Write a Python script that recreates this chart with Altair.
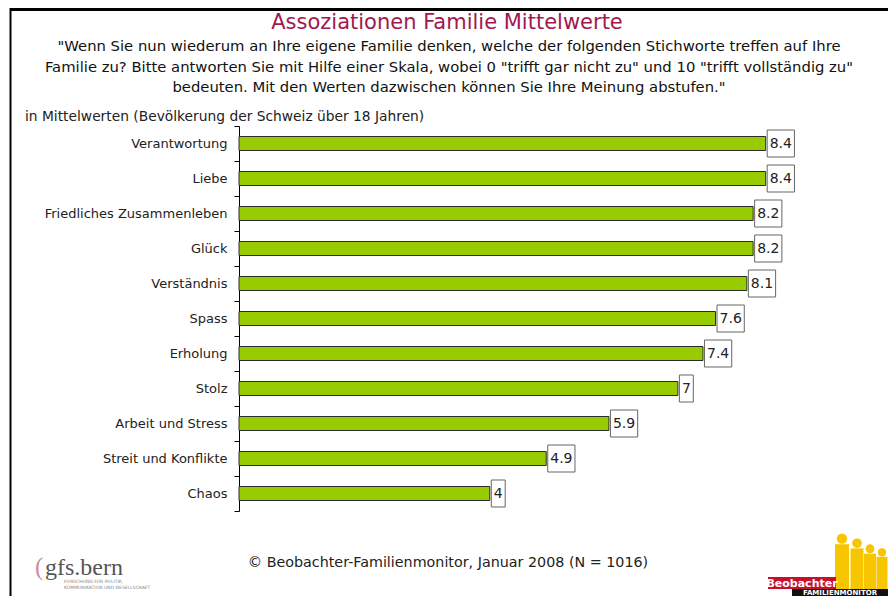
import altair as alt
import pandas as pd

categories = ["Verantwortung", "Liebe", "Friedliches Zusammenleben", "Glück", "Verständnis",
              "Spass", "Erholung", "Stolz", "Arbeit und Stress", "Streit und Konflikte", "Chaos"]
values = [8.4, 8.4, 8.2, 8.2, 8.1, 7.6, 7.4, 7, 5.9, 4.9, 4]
labels = ["8.4", "8.4", "8.2", "8.2", "8.1", "7.6", "7.4", "7", "5.9", "4.9", "4"]

title_text = "Assoziationen Familie Mittelwerte"
question_lines = [
    '"Wenn Sie nun wiederum an Ihre eigene Familie denken, welche der folgenden Stichworte treffen auf Ihre',
    'Familie zu? Bitte antworten Sie mit Hilfe einer Skala, wobei 0 "trifft gar nicht zu" und 10 "trifft vollständig zu"',
    'bedeuten. Mit den Werten dazwischen können Sie Ihre Meinung abstufen."',
]
subtitle_text = "in Mittelwerten (Bevölkerung der Schweiz über 18 Jahren)"
footer_text = "© Beobachter-Familienmonitor, Januar 2008 (N = 1016)"

df = pd.DataFrame({"cat": categories, "v": values, "lab": labels})

FONT = "DejaVu Sans"
W, H = 627, 385
PX = W / 10.0  # pixels per unit

y_enc = alt.Y("cat:N", sort=categories, title=None,
              scale=alt.Scale(paddingInner=0, paddingOuter=0),
              axis=alt.Axis(tickBand="extent", domainColor="black", tickColor="black",
                            tickSize=5, labelFont=FONT, labelFontSize=13, labelColor="#222",
                            labelPadding=7, labelLimit=300))
x_scale = alt.Scale(domain=[0, 10])

base = alt.Chart(df)

bars = base.mark_bar(size=14, fill="#99CC00", stroke="#2a2a2a", strokeWidth=1).encode(
    x=alt.X("v:Q", scale=x_scale, axis=None), y=y_enc)

boxed = base.transform_calculate(
    b0=f"datum.v + 1.5/{PX}",
    b1=f"datum.v + 1.5/{PX} + (8.9*length(datum.lab) - (indexof(datum.lab, '.') >= 0 ? 4.45 : 0) + 5)/{PX}",
)
boxes = boxed.mark_bar(size=27, fill="white", stroke="#666", strokeWidth=1).encode(
    x=alt.X("b0:Q", scale=x_scale, axis=None), x2="b1:Q", y=y_enc)
texts = boxed.mark_text(align="left", baseline="middle", dx=2.5, font=FONT, fontSize=14,
                        color="#222").encode(
    x=alt.X("b0:Q", scale=x_scale, axis=None), y=y_enc, text="lab:N")

one = alt.Data(values=[{}])

def txt(text, x, y, size, color="#222", align="center", font=FONT, weight="normal", baseline="middle"):
    return alt.Chart(one).mark_text(text=text, align=align, baseline=baseline, font=font,
                                    fontSize=size, color=color, fontWeight=weight).encode(
        x=alt.value(x), y=alt.value(y))

def box(x, y, x2, y2, color):
    return alt.Chart(one).mark_rect(color=color).encode(
        x=alt.value(x), x2=alt.value(x2), y=alt.value(y), y2=alt.value(y2))

ox, oy = 239, 126  # plot origin on the page

layers = [bars, boxes, texts]
layers.append(txt(title_text, 447 - ox, 23 - oy, 21, color="#A3174F"))
for i, line in enumerate(question_lines):
    layers.append(txt(line, 449 - ox, 47 - oy + i * 20.5, 14.8, color="#111"))
layers.append(txt(subtitle_text, 25 - ox, 117 - oy, 13.8, color="#222", align="left"))
layers.append(txt(footer_text, 448 - ox, 563 - oy, 14.3, color="#222"))

# frame lines
layers.append(alt.Chart(one).mark_rule(color="black", strokeWidth=2).encode(
    x=alt.value(10.5 - ox), y=alt.value(8 - oy), y2=alt.value(596 - oy)))
layers.append(alt.Chart(one).mark_rule(color="black", strokeWidth=3).encode(
    x=alt.value(10 - ox), x2=alt.value(888 - ox), y=alt.value(9.5 - oy)))

# gfs.bern logo
layers.append(txt("(", 35 - ox, 575 - oy, 25, color="#c9909e", align="left",
                  font="Liberation Serif", baseline="alphabetic"))
layers.append(txt("gfs.bern", 45 - ox, 575 - oy, 24, color="#555", align="left",
                  font="Liberation Serif", baseline="alphabetic"))
layers.append(txt("FORSCHUNG FÜR POLITIK,", 64 - ox, 582 - oy, 4.5, color="#888", align="left"))
layers.append(txt("KOMMUNIKATION UND GESELLSCHAFT", 64 - ox, 588 - oy, 4.5, color="#888", align="left"))

# Beobachter Familienmonitor logo
fig_color = "#F7C600"
for cx, top, w in [(842, 533, 14), (857, 538, 13), (870, 544, 12), (882, 548, 11)]:
    layers.append(alt.Chart(one).mark_point(shape="circle", filled=True, color=fig_color,
                                            size=w * w * 0.55, opacity=1).encode(
        x=alt.value(cx - ox), y=alt.value(top + w * 0.4 - oy)))
    layers.append(box(cx - w / 2 - ox, top + w * 0.8 - oy, cx + w / 2 - ox, 590 - oy, fig_color))
layers.append(box(768 - ox, 577 - oy, 836 - ox, 589 - oy, "#C8102E"))
layers.append(txt("Beobachter", 802 - ox, 583.5 - oy, 11, color="white", weight="bold"))
layers.append(box(792 - ox, 589 - oy, 888 - ox, 596 - oy, "#111"))
layers.append(txt("FAMILIENMONITOR", 840 - ox, 593 - oy, 7, color="white", weight="bold"))

chart = alt.layer(*layers).properties(
    width=W, height=H,
    autosize=alt.AutoSizeParams(type="none"),
    padding={"left": ox - 8, "top": oy - 8, "right": 880 - (ox - 8) - W, "bottom": 588 - (oy - 8) - H},
    background="white",
).configure_view(stroke=None)

chart.save("out.html", embed_options={"renderer": "svg", "actions": False})
